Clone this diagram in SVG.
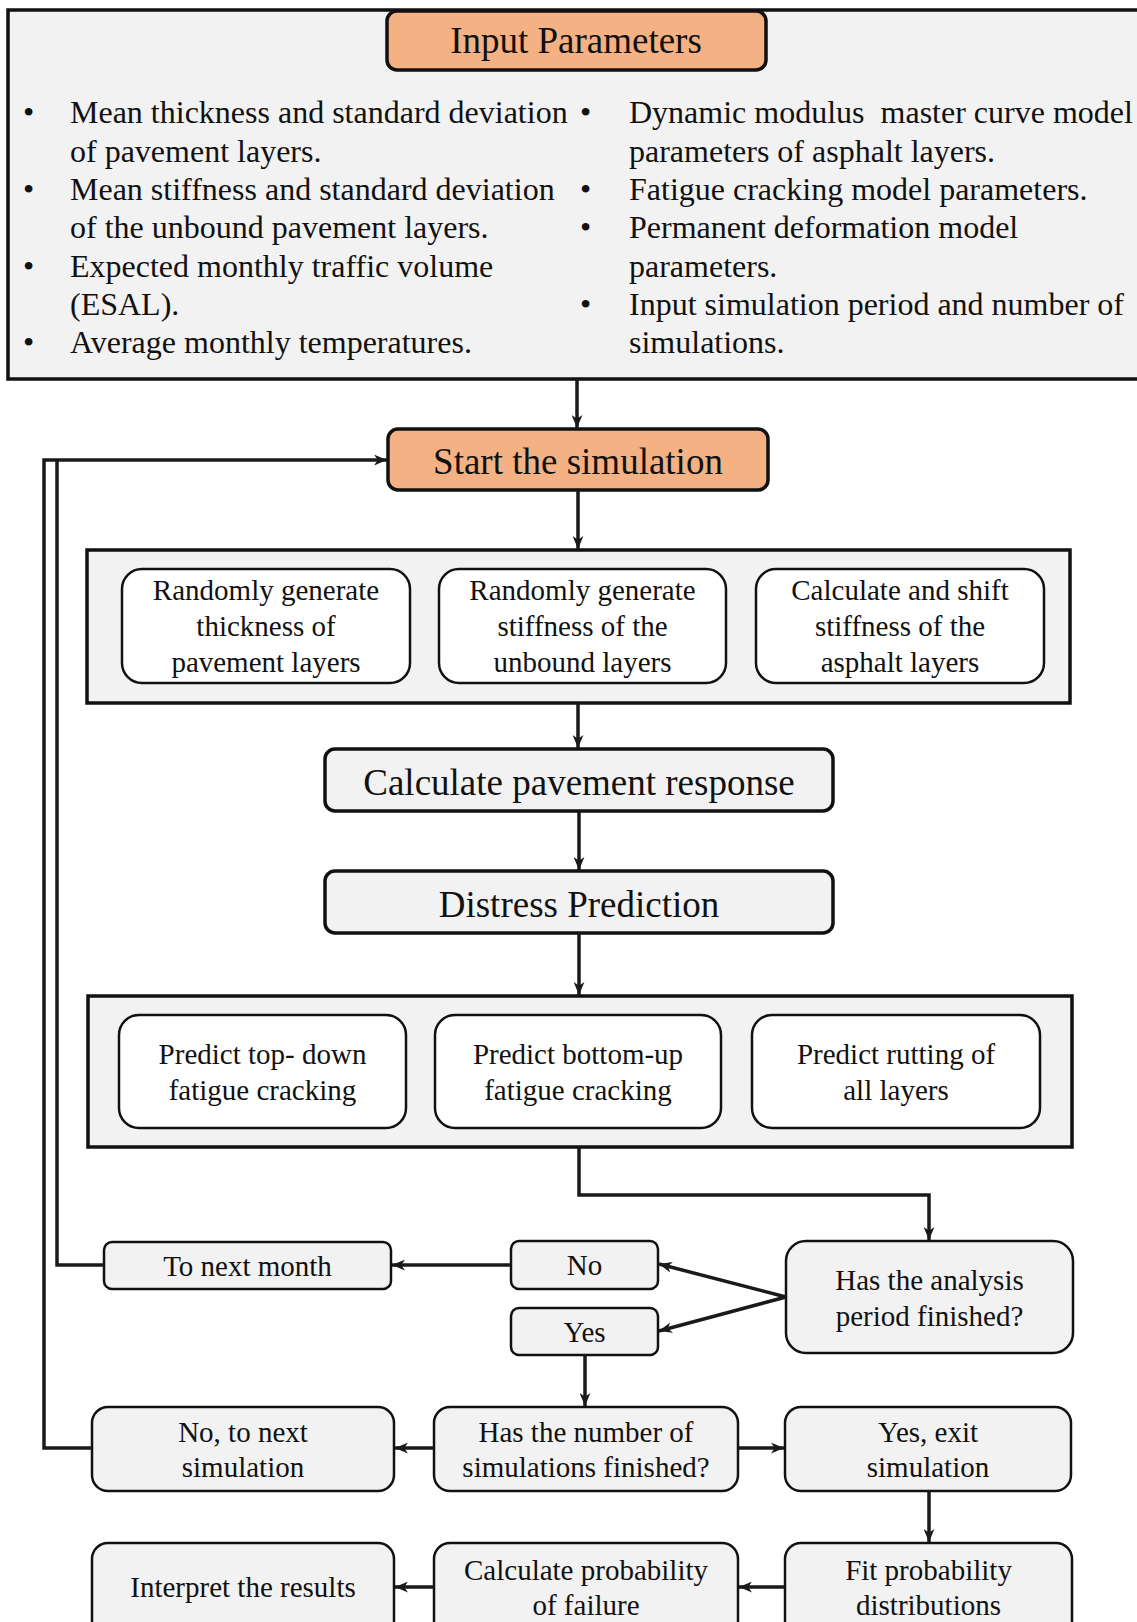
<svg xmlns="http://www.w3.org/2000/svg" width="1137" height="1622" viewBox="0 0 1137 1622">
<defs>
<style>
text{font-family:"Liberation Serif","Times New Roman",serif;fill:#111;}
.big{font-size:37px;text-anchor:middle;}
.mid{font-size:29px;text-anchor:middle;}
.bul{font-size:32px;}
.cont{fill:#f2f2f2;stroke:#111;stroke-width:3.5;}
.orange{fill:#f4b183;stroke:#111;stroke-width:3.5;}
.main{fill:#f2f2f2;stroke:#111;stroke-width:3.5;}
.inner{fill:#ffffff;stroke:#111;stroke-width:2.5;}
.gbox{fill:#f2f2f2;stroke:#111;stroke-width:2.5;}
.conn{fill:none;stroke:#1a1a1a;stroke-width:3.5;}
</style>
<marker id="arr" viewBox="0 0 12 10" refX="12" refY="5" markerWidth="13" markerHeight="11" markerUnits="userSpaceOnUse" orient="auto">
<path d="M0,0 L12,5 L0,10 L3.5,5 Z" fill="#1a1a1a"/>
</marker>
</defs>
<rect width="1137" height="1622" fill="#ffffff"/>

<g id="input-panel">
<rect class="cont" x="8" y="10" width="1140" height="369"/>
<text class="bul" x="23" y="123">•</text>
<text class="bul" x="70" y="123">Mean thickness and standard deviation</text>
<text class="bul" x="70" y="162">of pavement layers.</text>
<text class="bul" x="23" y="200">•</text>
<text class="bul" x="70" y="200">Mean stiffness and standard deviation</text>
<text class="bul" x="70" y="238">of the unbound pavement layers.</text>
<text class="bul" x="23" y="277">•</text>
<text class="bul" x="70" y="277">Expected monthly traffic volume</text>
<text class="bul" x="70" y="315">(ESAL).</text>
<text class="bul" x="23" y="353">•</text>
<text class="bul" x="70" y="353">Average monthly temperatures.</text>
<text class="bul" x="580" y="123">•</text>
<text class="bul" x="629" y="123" xml:space="preserve">Dynamic modulus  master curve model</text>
<text class="bul" x="629" y="162">parameters of asphalt layers.</text>
<text class="bul" x="580" y="200">•</text>
<text class="bul" x="629" y="200">Fatigue cracking model parameters.</text>
<text class="bul" x="580" y="238">•</text>
<text class="bul" x="629" y="238">Permanent deformation model</text>
<text class="bul" x="629" y="277">parameters.</text>
<text class="bul" x="580" y="315">•</text>
<text class="bul" x="629" y="315">Input simulation period and number of</text>
<text class="bul" x="629" y="353">simulations.</text>
</g>

<g id="input-parameters">
<rect class="orange" x="387" y="11" width="379" height="59" rx="10"/>
<text class="big" x="576" y="53">Input Parameters</text>
</g>

<g id="start-simulation">
<rect class="orange" x="388" y="429" width="380" height="61" rx="10"/>
<text class="big" x="578" y="474">Start the simulation</text>
</g>

<g id="generate-group">
<rect class="cont" x="87" y="550" width="983" height="153"/>
</g>
<g id="gen-thickness">
<rect class="inner" x="122" y="569" width="288" height="114" rx="20"/>
<text class="mid" x="266" y="600">Randomly generate</text>
<text class="mid" x="266" y="636">thickness of</text>
<text class="mid" x="266" y="672">pavement layers</text>
</g>
<g id="gen-stiffness">
<rect class="inner" x="439" y="569" width="287" height="114" rx="20"/>
<text class="mid" x="582.5" y="600">Randomly generate</text>
<text class="mid" x="582.5" y="636">stiffness of the</text>
<text class="mid" x="582.5" y="672">unbound layers</text>
</g>
<g id="shift-stiffness">
<rect class="inner" x="756" y="569" width="288" height="114" rx="20"/>
<text class="mid" x="900" y="600">Calculate and shift</text>
<text class="mid" x="900" y="636">stiffness of the</text>
<text class="mid" x="900" y="672">asphalt layers</text>
</g>

<g id="pavement-response">
<rect class="main" x="325" y="749" width="508" height="62" rx="10"/>
<text class="big" x="579" y="795">Calculate pavement response</text>
</g>

<g id="distress-prediction">
<rect class="main" x="325" y="871" width="508" height="62" rx="10"/>
<text class="big" x="579" y="917">Distress Prediction</text>
</g>

<g id="predict-group">
<rect class="cont" x="88" y="996" width="984" height="151"/>
</g>
<g id="predict-topdown">
<rect class="inner" x="119" y="1015" width="287" height="113" rx="20"/>
<text class="mid" x="262.5" y="1064">Predict top- down</text>
<text class="mid" x="262.5" y="1100">fatigue cracking</text>
</g>
<g id="predict-bottomup">
<rect class="inner" x="435" y="1015" width="286" height="113" rx="20"/>
<text class="mid" x="578" y="1064">Predict bottom-up</text>
<text class="mid" x="578" y="1100">fatigue cracking</text>
</g>
<g id="predict-rutting">
<rect class="inner" x="752" y="1015" width="288" height="113" rx="20"/>
<text class="mid" x="896" y="1064">Predict rutting of</text>
<text class="mid" x="896" y="1100">all layers</text>
</g>

<g id="analysis-finished">
<rect class="gbox" x="786" y="1241" width="287" height="112" rx="20"/>
<text class="mid" x="929.5" y="1290">Has the analysis</text>
<text class="mid" x="929.5" y="1326">period finished?</text>
</g>
<g id="no-label">
<rect class="gbox" x="511" y="1241" width="147" height="48" rx="8"/>
<text class="mid" x="584.5" y="1275">No</text>
</g>
<g id="yes-label">
<rect class="gbox" x="511" y="1308" width="147" height="47" rx="8"/>
<text class="mid" x="584.5" y="1342">Yes</text>
</g>
<g id="next-month">
<rect class="gbox" x="104" y="1242" width="287" height="47" rx="8"/>
<text class="mid" x="247.5" y="1276">To next month</text>
</g>
<g id="simulations-finished">
<rect class="gbox" x="434" y="1407" width="304" height="84" rx="16"/>
<text class="mid" x="586" y="1442">Has the number of</text>
<text class="mid" x="586" y="1477">simulations finished?</text>
</g>
<g id="next-simulation">
<rect class="gbox" x="92" y="1407" width="302" height="84" rx="16"/>
<text class="mid" x="243" y="1442">No, to next</text>
<text class="mid" x="243" y="1477">simulation</text>
</g>
<g id="exit-simulation">
<rect class="gbox" x="785" y="1407" width="286" height="84" rx="16"/>
<text class="mid" x="928" y="1442">Yes, exit</text>
<text class="mid" x="928" y="1477">simulation</text>
</g>
<g id="fit-distributions">
<rect class="gbox" x="785" y="1543" width="287" height="110" rx="16"/>
<text class="mid" x="928.5" y="1580">Fit probability</text>
<text class="mid" x="928.5" y="1615">distributions</text>
</g>
<g id="probability-failure">
<rect class="gbox" x="434" y="1543" width="304" height="110" rx="16"/>
<text class="mid" x="586" y="1580">Calculate probability</text>
<text class="mid" x="586" y="1615">of failure</text>
</g>
<g id="interpret-results">
<rect class="gbox" x="92" y="1543" width="302" height="110" rx="16"/>
<text class="mid" x="243" y="1597">Interpret the results</text>
</g>

<g id="connectors">
<path class="conn" d="M577,379 L577,428" marker-end="url(#arr)"/>
<path class="conn" d="M578,490 L578,549" marker-end="url(#arr)"/>
<path class="conn" d="M578,703 L578,748" marker-end="url(#arr)"/>
<path class="conn" d="M579,811 L579,870" marker-end="url(#arr)"/>
<path class="conn" d="M579,933 L579,995" marker-end="url(#arr)"/>
<path class="conn" d="M579,1147 L579,1195 L929,1195 L929,1240" marker-end="url(#arr)"/>
<path class="conn" d="M786,1297 L659,1264" marker-end="url(#arr)"/>
<path class="conn" d="M786,1297 L659,1331" marker-end="url(#arr)"/>
<path class="conn" d="M511,1265 L392,1265" marker-end="url(#arr)"/>
<path class="conn" d="M104,1265 L57,1265 L57,460"/>
<path class="conn" d="M92,1448 L44,1448 L44,460 L387,460" marker-end="url(#arr)"/>
<path class="conn" d="M585,1355 L585,1406" marker-end="url(#arr)"/>
<path class="conn" d="M434,1448 L395,1448" marker-end="url(#arr)"/>
<path class="conn" d="M738,1448 L784,1448" marker-end="url(#arr)"/>
<path class="conn" d="M929,1491 L929,1542" marker-end="url(#arr)"/>
<path class="conn" d="M785,1587 L739,1587" marker-end="url(#arr)"/>
<path class="conn" d="M434,1587 L395,1587" marker-end="url(#arr)"/>
</g>
</svg>
